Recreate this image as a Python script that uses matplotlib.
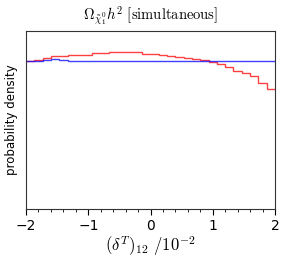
import matplotlib
matplotlib.use('Agg')
import matplotlib.pyplot as plt
import numpy as np
from matplotlib.ticker import MultipleLocator

# histogram bin edges and densities (blue level normalised to 1)
edges = np.linspace(-2, 2, 31)
red_density = [0.995, 1.007, 1.016, 1.032, 1.032, 1.038, 1.038, 1.040, 1.054, 1.054,
               1.059, 1.059, 1.059, 1.057, 1.045, 1.045, 1.038, 1.032, 1.027, 1.020,
               1.009, 1.003, 0.989, 0.976, 0.955, 0.933, 0.919, 0.897, 0.850, 0.807]
blue_density = [1.0, 1.0, 1.003, 1.01, 1.002, 0.997, 0.997, 1.0, 1.0, 1.0,
                1.0, 1.0, 1.0, 1.0, 1.0, 1.0, 1.0, 0.995, 1.0, 1.0,
                1.0, 1.0, 1.0, 0.998, 0.998, 0.998, 1.0, 1.0, 1.0, 1.0]

plt.rcParams['mathtext.fontset'] = 'cm'

fig = plt.figure(figsize=(2.96, 2.61), dpi=100)
ax = fig.add_axes([0.088, 0.199, 0.841, 0.682])
ax.stairs(red_density, edges, color='red', alpha=0.75, lw=1, baseline=None)
ax.stairs(blue_density, edges, color='blue', alpha=0.75, lw=1, baseline=None)

ax.set_xlim(-2, 2)
ax.set_ylim(0, 1.2)
ax.set_yticks([])
ax.xaxis.set_major_locator(MultipleLocator(1))
ax.xaxis.set_minor_locator(MultipleLocator(0.2))
ax.tick_params(axis='x', which='major', direction='out', length=4, labelsize=10, pad=3)
ax.tick_params(axis='x', which='minor', direction='out', length=2)
for s in ax.spines.values():
    s.set_color('#333333')
    s.set_linewidth(0.8)

ax.set_title(r'$\Omega_{\tilde{\chi}_1^0}h^2\ \mathrm{[simultaneous]}$', fontsize=10.5, pad=8)
ax.set_xlabel(r'$(\delta^T)_{12}\ /10^{-2}$', fontsize=12, labelpad=1)
ax.set_ylabel('probability density', fontsize=8.5, labelpad=6)

plt.savefig('out.png', dpi=100)
